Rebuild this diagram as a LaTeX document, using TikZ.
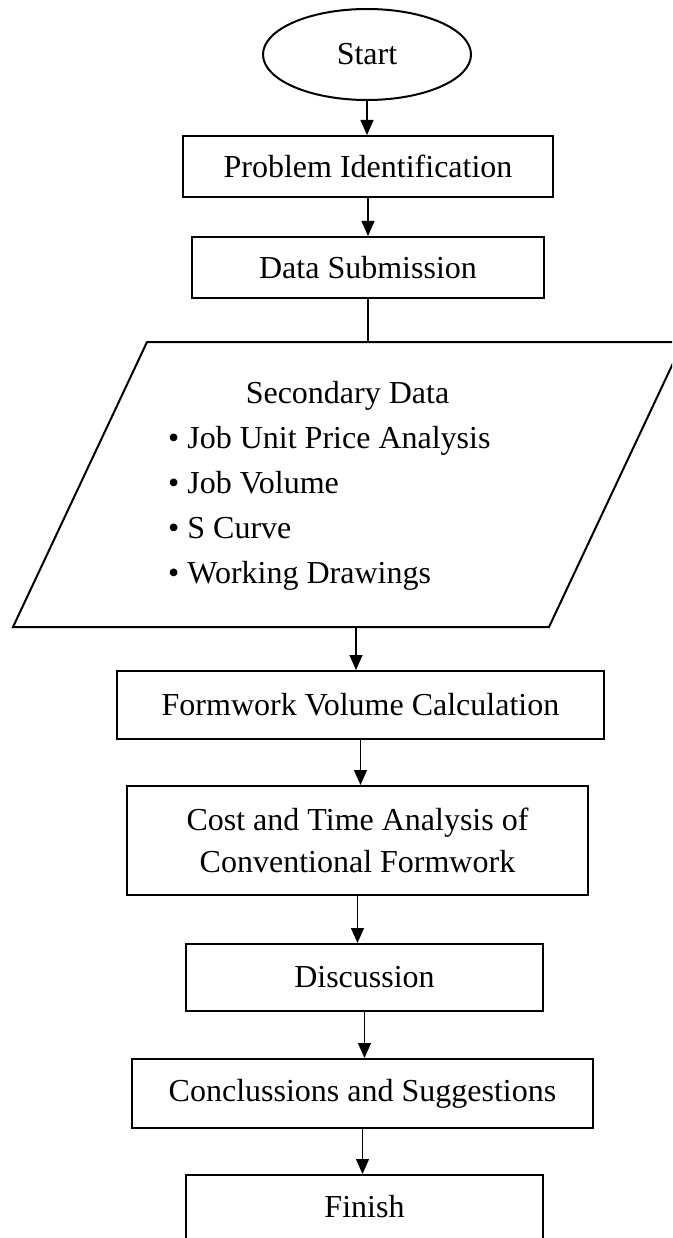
\documentclass[tikz,border=0pt]{standalone}
\usepackage{fontspec}
\setmainfont{Liberation Serif}
\usetikzlibrary{shapes.geometric,arrows.meta}
\begin{document}
\begin{tikzpicture}[x=1pt,y=-1pt,
  every node/.style={font=\fontsize{32}{42}\selectfont, inner sep=0pt},
  box/.style={draw, line width=2pt, rectangle, align=center},
  term/.style={draw, line width=2pt, ellipse, minimum width=208pt, minimum height=91pt},
  arr/.style={line width=1.1pt, -{Triangle[length=15pt,width=13pt]}},
  link/.style={line width=1.1pt},
  bulletline/.style={anchor=base west}]
\useasboundingbox (0,0) rectangle (672,1238);
\fill[white] (0,0) rectangle (672,1238);
\clip (0,0) rectangle (672,1238);

\node[term] (start) at (367,54.5) {Start};
\node[box, minimum width=370pt, minimum height=61pt] (prob) at (368,166.5) {Problem Identification};
\node[box, minimum width=352pt, minimum height=61pt] (data) at (368,267.5) {Data Submission};

% parallelogram (secondary data)
\draw[line width=2pt, line join=miter] (13,627) -- (549,627) -- (683,342) -- (147,342) -- cycle;
\coordinate (ptop) at (368,342);
\coordinate (pbot) at (356,627);
\node[anchor=base] (sec) at (347.5,403) {Secondary Data};
\node[bulletline] (l1) at (168,448) {• Job Unit Price Analysis};
\node[bulletline] (l2) at (168,493) {• Job Volume};
\node[bulletline] (l3) at (168,538) {• S Curve};
\node[bulletline] (l4) at (168,583) {• Working Drawings};

\node[box, minimum width=487pt, minimum height=68pt] (form) at (360.5,705) {Formwork Volume Calculation};
\node[box, minimum width=461pt, minimum height=109pt] (cost) at (357.5,840.5) {Cost and Time Analysis of\\Conventional Formwork};
\node[box, minimum width=357pt, minimum height=67pt] (disc) at (364.5,977.5) {Discussion};
\node[box, minimum width=461pt, minimum height=69pt] (conc) at (362.5,1093.5) {Conclussions and Suggestions};
\node[box, minimum width=357pt, minimum height=70pt, text depth=8pt] (fin) at (364.5,1210) {Finish};

\draw[arr] (start.south) -- (start.south |- prob.north);
\draw[arr] (prob.south) -- (prob.south |- data.north);
\draw[link] (data.south) -- (ptop);
\draw[arr] (pbot) -- (pbot |- form.north);
\draw[arr] (form.south) -- (form.south |- cost.north);
\draw[arr] (cost.south) -- (cost.south |- disc.north);
\draw[arr] (disc.south) -- (disc.south |- conc.north);
\draw[arr] (conc.south) -- (conc.south |- fin.north);
\end{tikzpicture}
\end{document}
